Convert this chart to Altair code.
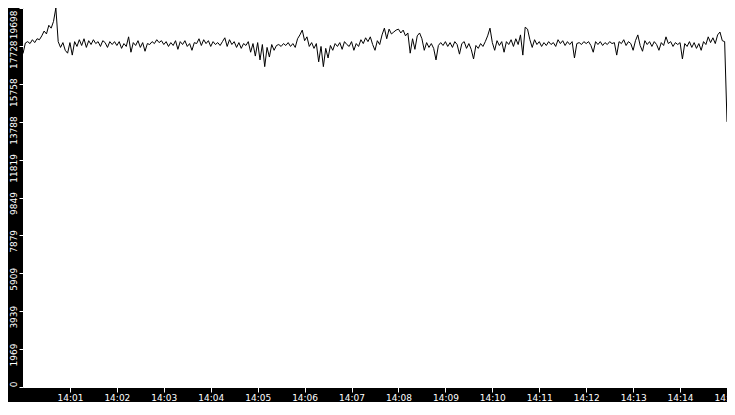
import altair as alt
import pandas as pd

# values every 3 seconds from 14:00:00 to 14:15:00
m00 = [17330, 17880, 17950, 17850, 18050, 17900, 18100, 18050, 18250, 18500,
       18350, 18800, 18650, 19000, 19698, 17950, 17650, 17900, 17500, 17350]
m01 = [17900, 17250, 17950, 17700, 18050, 17750, 18100, 17650, 18000, 17800,
       18050, 17850, 17950, 17700, 18000, 17900, 17650, 17950, 17800, 17950]
m02 = [17750, 17950, 17600, 17850, 17700, 18200, 17400, 17900, 17750, 18000,
       17650, 17900, 17450, 17850, 17800, 17950, 17850, 18050, 17900, 18000]
m03 = [17800, 17950, 17700, 17900, 17750, 18000, 17550, 17950, 17800, 18000,
       17700, 17850, 17500, 17900, 17850, 18100, 17750, 18050, 17850, 18000]
m04 = [17700, 17950, 17800, 17900, 17750, 17950, 18150, 17700, 18050, 17800,
       17950, 17650, 17900, 17600, 17850, 17750, 17950, 17400, 17850, 17200]
m05 = [17900, 17000, 17800, 16650, 17650, 17150, 17800, 17500, 17750, 17800,
       17700, 17850, 17750, 17900, 17700, 17850, 17650, 18100, 18300, 18550]
m06 = [18000, 18200, 17700, 17900, 17600, 17850, 16900, 17700, 16650, 17600,
       17100, 17750, 17500, 17850, 17700, 17900, 17550, 17950, 17800, 17700]
m07 = [17950, 17500, 17850, 17700, 18050, 17850, 18150, 17950, 18200, 17800,
       17500, 18000, 17800, 18300, 18650, 18100, 18600, 18350, 18450, 18550]
m08 = [18600, 18400, 18550, 18250, 18400, 17350, 18100, 17550, 18250, 18400,
       18100, 17500, 17900, 17650, 17850, 17600, 17000, 17750, 17900, 17750]
m09 = [17950, 17700, 17900, 17650, 17950, 17800, 17300, 17850, 17950, 17600,
       17850, 17550, 17050, 17750, 17600, 17850, 17700, 17950, 18250, 18650]
m10 = [17900, 17500, 18000, 17750, 17950, 17400, 17950, 17800, 18050, 17700,
       18100, 17800, 18300, 17250, 18700, 18600, 18050, 17650, 18050, 17800]
m11 = [17950, 17700, 17900, 17750, 17950, 17800, 17900, 17700, 18050, 17850,
       18000, 17750, 17950, 17800, 17950, 17100, 17850, 17900, 17800, 17950]
m12 = [17850, 17950, 17750, 17400, 17950, 17800, 17950, 17750, 17900, 17800,
       17950, 17850, 17900, 17250, 17950, 17850, 18050, 17750, 17950, 17850]
m13 = [17500, 18000, 18300, 17750, 17450, 18000, 17800, 17950, 17700, 17950,
       17800, 17500, 17900, 17750, 18200, 17850, 17950, 17700, 17900, 17800]
m14 = [17900, 17050, 17850, 17700, 17950, 17650, 17900, 17600, 17850, 17500,
       17950, 17800, 18200, 17900, 18150, 17850, 18300, 18450, 18000, 17950]
m15 = [13780]

values = m00 + m01 + m02 + m03 + m04 + m05 + m06 + m07 + m08 + m09 + m10 + m11 + m12 + m13 + m14 + m15
times = pd.date_range("2024-01-01 14:00:00", periods=len(values), freq="3s").strftime("%Y-%m-%dT%H:%M:%S")

y_max = 19698.4
y_ticks = [0, 1969.84, 3939.68, 5909.52, 7879.36, 9849.2, 11819.04, 13788.88, 15758.72, 17728.56, 19698.4]
x_minutes = list(range(1, 16))

df = pd.DataFrame({"t": list(times), "v": values})


def hm(m):
    return alt.DateTime(year=2024, month=1, date=1, hours=14, minutes=m)


chart = alt.Chart(df).mark_line(color="black", strokeWidth=1).encode(
    x=alt.X("t:T", title=None,
            scale=alt.Scale(domain=[hm(0), hm(15)]),
            axis=alt.Axis(values=[hm(m) for m in x_minutes], format="%H:%M",
                          labelFlush=False, labelOverlap=False,
                          domain=False, grid=False, tickColor="white", tickSize=5,
                          labelColor="white", labelFont="DejaVu Sans", labelFontSize=9,
                          labelPadding=1)),
    y=alt.Y("v:Q", title=None,
            scale=alt.Scale(domain=[0, y_max], nice=False, zero=True),
            axis=alt.Axis(values=y_ticks, labelExpr="floor(datum.value)", labelAngle=-90,
                          labelAlign="right",
                          labelOffset={"condition": {"test": "datum.value > 19000", "value": 2},
                                       "value": -6},
                          labelFlush=False, labelOverlap=False,
                          domain=False, grid=False, tickColor="white", tickSize=4,
                          labelColor="white", labelFont="DejaVu Sans", labelFontSize=9,
                          labelPadding=1)),
).properties(
    width=704, height=379,
    autosize=alt.AutoSizeParams(type="none"),
    padding={"left": 15, "top": 0, "right": 0, "bottom": 15},
    background="black",
).configure_view(fill="white", stroke="white", strokeWidth=1)

chart.save("out.html", embed_options={"renderer": "svg", "actions": False})
